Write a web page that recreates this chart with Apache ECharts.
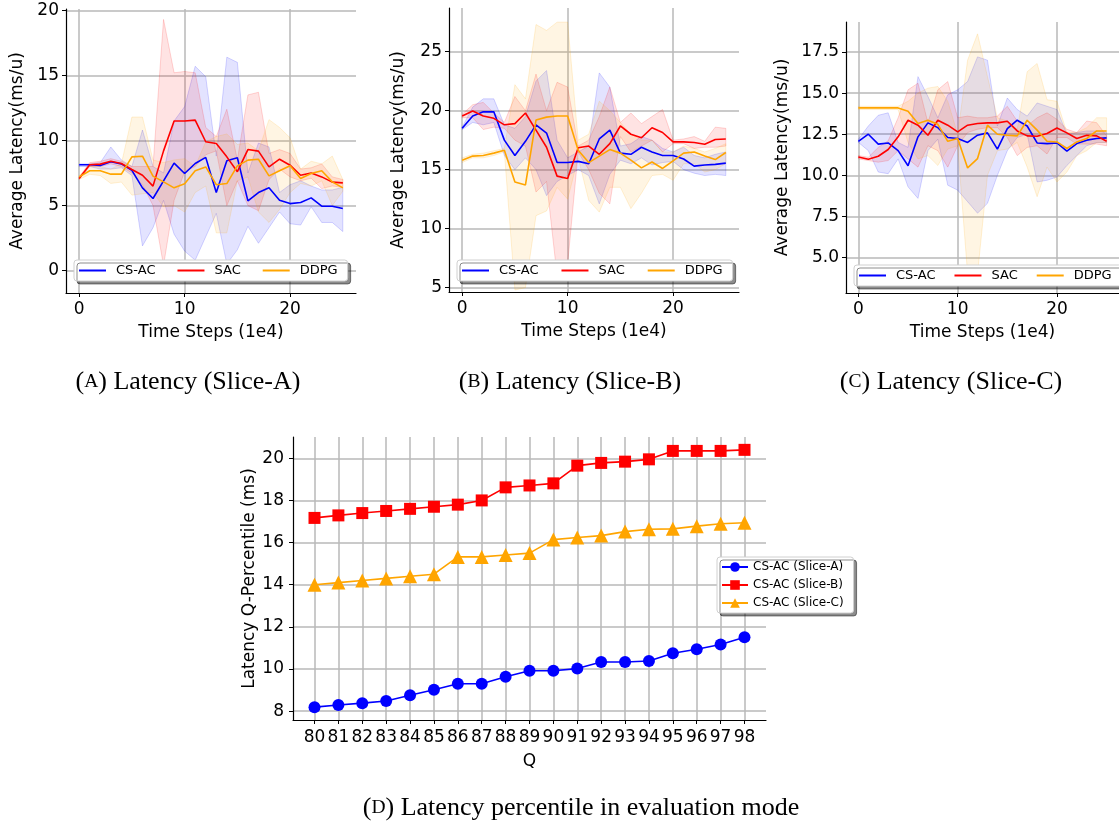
<!DOCTYPE html>
<html>
<head>
<meta charset="utf-8">
<script src="https://cdn.jsdelivr.net/npm/echarts@6/dist/echarts.min.js"></script>
<style>
  html, body { margin: 0; background: #fff; }
  #main { width: 1119px; height: 825px; }
</style>
</head>
<body>
<div id="main"></div>
<script>
// time steps (1e4)
const steps = [0, 1, 2, 3, 4, 5, 6, 7, 8, 9, 10, 11, 12, 13, 14, 15, 16, 17, 18, 19, 20, 21, 22, 23, 24, 25]
const timeTicks = [0, 10, 20]

// Slice-A
const aCsac = [8.13, 8.13, 8.08, 8.36, 8.2, 7.7, 6.36, 5.54, 6.9, 8.26, 7.46, 8.23, 8.7, 6.0, 8.44, 8.67, 5.36, 6.0, 6.36, 5.41, 5.15, 5.23, 5.59, 4.95, 4.95, 4.77]
const aCsacHi = [8.2, 8.2, 8.3, 9.5, 8.5, 8.0, 10.8, 8.0, 7.5, 11.5, 12.6, 15.7, 14.9, 8.8, 16.4, 16.0, 7.5, 9.8, 9.5, 6.0, 6.6, 6.9, 6.5, 6.2, 6.2, 6.4]
const aCsacLo = [8.0, 8.0, 7.8, 7.8, 7.9, 7.3, 1.9, 3.3, 5.4, 2.8, 1.5, 0.8, 2.6, 4.4, 0.5, 1.6, 3.4, 2.1, 3.3, 4.5, 3.6, 3.5, 4.9, 3.7, 3.7, 3.0]
const aSac = [7.08, 8.13, 8.18, 8.4, 8.23, 7.77, 7.33, 6.49, 9.2, 11.49, 11.5, 11.56, 9.9, 9.77, 8.74, 7.6, 9.3, 9.18, 7.97, 8.56, 8.1, 7.33, 7.5, 7.2, 6.8, 6.74]
const aSacHi = [7.2, 8.3, 8.4, 8.6, 8.4, 8.0, 8.0, 8.0, 19.3, 15.2, 15.3, 15.2, 11.0, 10.3, 12.4, 8.5, 13.5, 13.7, 9.0, 9.3, 9.0, 7.8, 7.9, 8.2, 7.2, 7.0]
const aSacLo = [7.0, 8.0, 8.0, 8.2, 8.0, 7.5, 6.6, 5.0, 0.4, 5.4, 7.6, 8.0, 8.9, 9.2, 5.0, 6.9, 5.0, 4.6, 7.0, 7.8, 7.2, 6.9, 7.1, 6.3, 6.5, 6.4]
const aDdpg = [7.2, 7.67, 7.67, 7.41, 7.41, 8.74, 8.79, 7.26, 6.82, 6.36, 6.67, 7.67, 7.97, 6.6, 6.69, 8.05, 8.49, 8.56, 7.28, 7.67, 8.05, 7.08, 7.46, 7.67, 6.82, 6.36]
const aDdpgHi = [7.3, 8.0, 8.0, 7.8, 8.2, 11.8, 11.8, 8.5, 8.3, 8.5, 8.6, 8.0, 9.9, 10.3, 10.5, 9.7, 9.8, 9.2, 11.6, 11.0, 10.2, 7.8, 8.4, 8.2, 8.8, 7.0]
const aDdpgLo = [7.0, 7.4, 7.3, 6.7, 6.8, 5.8, 5.9, 6.0, 4.9, 5.0, 4.5, 6.0, 6.5, 2.9, 2.9, 6.9, 7.2, 4.5, 3.7, 4.7, 6.0, 6.7, 6.5, 6.9, 5.0, 6.1]

// Slice-B
const bCsac = [18.5, 19.55, 19.9, 19.9, 17.5, 16.2, 17.4, 18.8, 18.1, 15.6, 15.6, 15.7, 15.5, 17.6, 18.35, 16.4, 16.3, 16.9, 16.5, 16.2, 16.2, 15.9, 15.3, 15.4, 15.45, 15.55]
const bCsacHi = [18.6, 20.3, 21.0, 21.0, 18.8, 18.5, 19.5, 22.5, 23.4, 17.5, 16.0, 16.5, 17.0, 23.2, 22.0, 17.0, 17.2, 17.8, 17.5, 16.8, 16.5, 16.9, 16.2, 16.0, 16.3, 16.5]
const bCsacLo = [18.4, 19.0, 18.8, 19.0, 16.2, 15.0, 16.0, 15.0, 12.8, 14.0, 14.5, 15.0, 14.5, 12.1, 14.6, 15.8, 15.5, 16.0, 15.4, 15.6, 15.7, 15.0, 14.7, 14.5, 14.6, 14.5]
const bSac = [19.55, 19.97, 19.55, 19.35, 18.8, 18.9, 19.8, 18.35, 16.9, 14.45, 14.25, 16.85, 17.0, 16.3, 17.2, 18.7, 18.0, 17.7, 18.55, 18.15, 17.35, 17.35, 17.3, 17.15, 17.55, 17.6]
const bSacHi = [19.7, 20.5, 20.7, 19.8, 19.0, 21.2, 20.0, 23.1, 20.0, 22.4, 22.0, 17.0, 17.5, 19.5, 22.0, 19.0, 19.8, 18.9, 19.5, 20.1, 17.5, 17.6, 17.8, 17.4, 18.6, 18.5]
const bSacLo = [19.4, 19.4, 18.4, 18.6, 18.5, 17.5, 17.0, 13.1, 14.0, 6.0, 7.0, 16.5, 15.0, 13.0, 12.1, 17.8, 16.5, 17.0, 17.5, 16.5, 17.2, 17.2, 16.8, 16.9, 16.9, 17.0]
const bDdpg = [15.8, 16.15, 16.2, 16.4, 16.65, 13.95, 13.7, 19.2, 19.45, 19.55, 19.55, 16.65, 15.6, 16.15, 16.7, 16.4, 15.8, 15.15, 15.65, 15.1, 15.75, 16.4, 16.5, 16.15, 15.85, 16.45]
const bDdpgHi = [16.0, 16.3, 16.4, 16.6, 16.8, 22.2, 21.0, 27.3, 26.8, 27.5, 27.5, 17.5, 18.0, 20.8, 20.0, 19.0, 18.0, 17.5, 17.5, 16.5, 16.5, 17.0, 16.8, 16.5, 16.8, 17.2]
const bDdpgLo = [15.6, 16.0, 16.0, 16.2, 16.5, 4.8, 5.0, 11.1, 11.5, 13.5, 12.5, 16.0, 12.4, 11.4, 13.5, 13.5, 11.7, 13.0, 14.5, 14.6, 14.1, 15.5, 15.5, 14.8, 15.0, 15.5]

// Slice-C
const cCsac = [12.07, 12.5, 11.9, 11.97, 11.5, 10.58, 12.34, 13.19, 12.9, 12.3, 12.24, 12.0, 12.44, 12.58, 11.59, 12.84, 13.35, 13.0, 11.97, 11.93, 11.97, 11.47, 11.93, 12.14, 12.24, 12.28]
const cCsacHi = [12.2, 13.0, 13.65, 13.8, 12.0, 11.7, 16.0, 14.8, 13.5, 14.9, 15.2, 15.7, 17.2, 17.0, 13.0, 14.7, 14.0, 13.6, 14.4, 14.2, 14.0, 12.5, 12.6, 12.7, 12.7, 12.6]
const cCsacLo = [12.0, 11.5, 10.2, 10.1, 11.0, 9.3, 8.6, 11.5, 12.2, 9.4, 9.1, 8.4, 7.7, 8.3, 10.0, 11.5, 12.3, 12.5, 9.6, 9.7, 9.9, 10.6, 11.2, 11.8, 12.0, 12.0]
const cSac = [11.12, 10.98, 11.16, 11.57, 12.34, 13.35, 13.05, 12.44, 13.35, 13.05, 12.64, 13.05, 13.15, 13.19, 13.19, 13.29, 12.7, 12.4, 12.38, 12.54, 12.88, 12.58, 12.24, 12.44, 12.4, 12.07]
const cSacHi = [11.2, 11.1, 11.7, 12.1, 13.5, 15.2, 15.6, 13.2, 15.2, 15.7, 13.5, 13.6, 13.5, 13.5, 13.6, 14.2, 13.3, 13.0, 13.5, 13.8, 13.4, 12.8, 12.6, 13.3, 13.2, 12.4]
const cSacLo = [11.0, 10.9, 10.8, 10.9, 11.5, 11.0, 10.5, 11.8, 11.5, 10.5, 11.8, 12.6, 12.8, 12.9, 12.9, 12.3, 11.2, 11.7, 11.8, 11.3, 12.3, 12.3, 11.9, 11.9, 11.9, 11.8]
const cDdpg = [14.1, 14.1, 14.1, 14.1, 14.1, 13.9, 13.15, 13.35, 13.1, 12.07, 12.24, 10.45, 11.02, 13.05, 12.5, 12.44, 12.4, 13.35, 12.75, 12.07, 12.03, 11.63, 12.03, 12.24, 12.7, 12.7]
const cDdpgHi = [14.2, 14.2, 14.2, 14.2, 14.2, 14.5, 15.0, 15.3, 15.4, 14.5, 12.5, 17.0, 18.6, 16.0, 13.5, 13.3, 12.8, 16.3, 16.8, 14.6, 14.5, 12.6, 12.6, 12.9, 13.5, 13.5]
const cDdpgLo = [14.0, 14.0, 14.0, 14.0, 14.0, 12.0, 11.0, 11.2, 10.6, 11.6, 11.8, 4.0, 4.0, 10.0, 11.5, 11.6, 12.0, 10.5, 8.7, 10.5, 9.6, 10.2, 11.2, 11.5, 12.0, 12.0]

// latency percentile in evaluation mode
const quantiles = [80, 81, 82, 83, 84, 85, 86, 87, 88, 89, 90, 91, 92, 93, 94, 95, 96, 97, 98]
const pSliceA = [8.19, 8.29, 8.38, 8.48, 8.75, 9.02, 9.3, 9.3, 9.63, 9.92, 9.92, 10.02, 10.33, 10.33, 10.38, 10.75, 10.94, 11.16, 11.51]
const pSliceB = [17.17, 17.29, 17.4, 17.5, 17.6, 17.7, 17.8, 18.0, 18.62, 18.71, 18.81, 19.65, 19.78, 19.84, 19.95, 20.35, 20.35, 20.35, 20.4]
const pSliceC = [14.0, 14.1, 14.2, 14.3, 14.4, 14.5, 15.32, 15.32, 15.41, 15.5, 16.14, 16.24, 16.33, 16.52, 16.63, 16.65, 16.78, 16.89, 16.94]

const aTicks = [0, 5, 10, 15, 20]
const bTicks = [5, 10, 15, 20, 25]
const cTicks = [5, 7.5, 10, 12.5, 15, 17.5]
const pTicks = [8, 10, 12, 14, 16, 18, 20]

const BLUE = '#0000ff'
const RED = '#ff0000'
const ORANGE = '#ffa500'
const SANS = 'DejaVu Sans'
const SERIF = 'Liberation Serif'
const GRID_LINE = { show: true, lineStyle: { color: '#b8b8b8', width: 1.5 } }

function pairs(xs, ys) {
  return xs.map((x, i) => [x, ys[i]])
}

function xAxisOf(gi, min, max, ticks, name, margin, nameGap) {
  return {
    type: 'value', gridIndex: gi, min: min, max: max,
    name: name, nameLocation: 'middle', nameGap: nameGap,
    nameTextStyle: { fontFamily: SANS, fontSize: 17, color: '#000' },
    axisLine: { show: true, onZero: false, lineStyle: { color: '#000', width: 1.2 } },
    axisTick: { show: true, customValues: ticks, length: 4, lineStyle: { color: '#000', width: 1 } },
    axisLabel: { customValues: ticks, fontFamily: SANS, fontSize: 17, color: '#000', margin: margin },
    splitLine: GRID_LINE
  }
}

function yAxisOf(gi, min, max, ticks, name, nameGap, fmt, margin) {
  return {
    type: 'value', gridIndex: gi, min: min, max: max,
    name: name, nameLocation: 'middle', nameGap: nameGap,
    nameTextStyle: { fontFamily: SANS, fontSize: 17, color: '#000' },
    axisLine: { show: true, onZero: false, lineStyle: { color: '#000', width: 1.2 } },
    axisTick: { show: true, customValues: ticks, length: 4, lineStyle: { color: '#000', width: 1 } },
    axisLabel: { customValues: ticks, fontFamily: SANS, fontSize: 17, color: '#000', margin: margin, formatter: fmt },
    splitLine: GRID_LINE
  }
}

function rgba(hex, a) {
  const n = parseInt(hex.slice(1), 16)
  return 'rgba(' + (n >> 16) + ',' + ((n >> 8) & 255) + ',' + (n & 255) + ',' + a + ')'
}

// shaded band between lo and hi, drawn as one polygon through the axis scales
function band(gi, lo, hi, color) {
  return {
    type: 'custom', xAxisIndex: gi, yAxisIndex: gi, silent: true, clip: true, z: 1,
    data: pairs(steps, lo), encode: { x: 0, y: 1 },
    renderItem: function (params, api) {
      if (params.dataIndex !== 0) return null
      const pts = []
      for (let i = 0; i < steps.length; i++) pts.push(api.coord([steps[i], hi[i]]))
      for (let i = steps.length - 1; i >= 0; i--) pts.push(api.coord([steps[i], lo[i]]))
      return {
        type: 'polygon',
        shape: { points: pts },
        style: { fill: rgba(color, 0.11), stroke: rgba(color, 0.16), lineWidth: 1 }
      }
    }
  }
}

function meanLine(name, gi, ys, color) {
  return {
    name: name, type: 'line', xAxisIndex: gi, yAxisIndex: gi,
    data: pairs(steps, ys), symbol: 'none',
    lineStyle: { color: color, width: 1.6 }, itemStyle: { color: color }, z: 3
  }
}

function pctLine(name, ys, color, symbol, size) {
  return {
    name: name, type: 'line', xAxisIndex: 3, yAxisIndex: 3,
    data: pairs(quantiles, ys), symbol: symbol, symbolSize: size,
    lineStyle: { color: color, width: 1.6 }, itemStyle: { color: color }, z: 3
  }
}

const legendBox = {
  backgroundColor: '#fff', borderColor: '#d0d0d0', borderWidth: 1, borderRadius: 3,
  shadowColor: 'rgba(0,0,0,0.45)', shadowOffsetX: 3, shadowOffsetY: 3, shadowBlur: 0,
  selectedMode: false
}

function algoLegend(left, top, gap) {
  return Object.assign({}, legendBox, {
    data: ['CS-AC', 'SAC', 'DDPG'], orient: 'horizontal', left: left, top: top, width: 320,
    icon: 'rect', itemWidth: 27, itemHeight: 2, itemGap: gap, padding: [4, 10, 4, 5],
    textStyle: { fontFamily: SANS, fontSize: 13, color: '#000', padding: [0, 0, 0, 5] }
  })
}

function caption(x, y, letter, text) {
  return {
    type: 'text', x: x, y: y,
    style: {
      text: '{n|(}{s|' + letter + '}{n|) ' + text + '}',
      align: 'center', verticalAlign: 'middle',
      rich: {
        n: { fontFamily: SERIF, fontSize: 26, fill: '#000' },
        s: { fontFamily: SERIF, fontSize: 19.5, fill: '#000' }
      }
    }
  }
}

const chart = echarts.init(document.getElementById('main'), null, { renderer: 'canvas' })

const yName = 'Average Latency(ms/u)'
const xName = 'Time Steps (1e4)'

chart.setOption({
  animation: false,
  backgroundColor: '#fff',
  grid: [
    { left: 66, top: 9, width: 290, height: 284 },
    { left: 449, top: 8, width: 290, height: 284 },
    { left: 846, top: 22, width: 278, height: 271 },
    { left: 293, top: 437, width: 473, height: 283 }
  ],
  xAxis: [
    xAxisOf(0, -1.25, 26.25, timeTicks, xName, 8, 31),
    xAxisOf(1, -1.25, 26.25, timeTicks, xName, 8, 31),
    xAxisOf(2, -1.25, 26.25, timeTicks, xName, 8, 31),
    xAxisOf(3, 79.1, 98.9, quantiles, 'Q', 9, 33)
  ],
  yAxis: [
    yAxisOf(0, -1.72, 20.1, aTicks, yName, 40, null, 7),
    yAxisOf(1, 4.63, 28.7, bTicks, yName, 42, null, 7),
    yAxisOf(2, 2.85, 19.32, cTicks, yName, 55, v => v.toFixed(1), 7),
    yAxisOf(3, 7.58, 21.01, pTicks, 'Latency Q-Percentile (ms)', 34, null, 9)
  ],
  legend: [
    algoLegend(74, 260, 22),
    algoLegend(457, 260, 23),
    algoLegend(854, 265, 19),
    Object.assign({}, legendBox, {
      data: ['CS-AC (Slice-A)', 'CS-AC (Slice-B)', 'CS-AC (Slice-C)'],
      orient: 'vertical', left: 717, top: 557,
      itemWidth: 26, itemHeight: 12, itemGap: 6, padding: [4, 10, 4, 4],
      textStyle: { fontFamily: SANS, fontSize: 12, color: '#000' }
    })
  ],
  graphic: [
    caption(188, 382, 'A', 'Latency (Slice-A)'),
    caption(570, 382, 'B', 'Latency (Slice-B)'),
    caption(951, 382, 'C', 'Latency (Slice-C)'),
    caption(581, 808, 'D', 'Latency percentile in evaluation mode')
  ],
  series: [
    band(0, aCsacLo, aCsacHi, BLUE),
    band(0, aSacLo, aSacHi, RED),
    band(0, aDdpgLo, aDdpgHi, ORANGE),
    meanLine('CS-AC', 0, aCsac, BLUE),
    meanLine('SAC', 0, aSac, RED),
    meanLine('DDPG', 0, aDdpg, ORANGE),

    band(1, bCsacLo, bCsacHi, BLUE),
    band(1, bSacLo, bSacHi, RED),
    band(1, bDdpgLo, bDdpgHi, ORANGE),
    meanLine('CS-AC', 1, bCsac, BLUE),
    meanLine('SAC', 1, bSac, RED),
    meanLine('DDPG', 1, bDdpg, ORANGE),

    band(2, cCsacLo, cCsacHi, BLUE),
    band(2, cSacLo, cSacHi, RED),
    band(2, cDdpgLo, cDdpgHi, ORANGE),
    meanLine('CS-AC', 2, cCsac, BLUE),
    meanLine('SAC', 2, cSac, RED),
    meanLine('DDPG', 2, cDdpg, ORANGE),

    pctLine('CS-AC (Slice-A)', pSliceA, BLUE, 'circle', 12),
    pctLine('CS-AC (Slice-B)', pSliceB, RED, 'rect', 12),
    pctLine('CS-AC (Slice-C)', pSliceC, ORANGE, 'triangle', 14)
  ]
})
</script>
</body>
</html>
